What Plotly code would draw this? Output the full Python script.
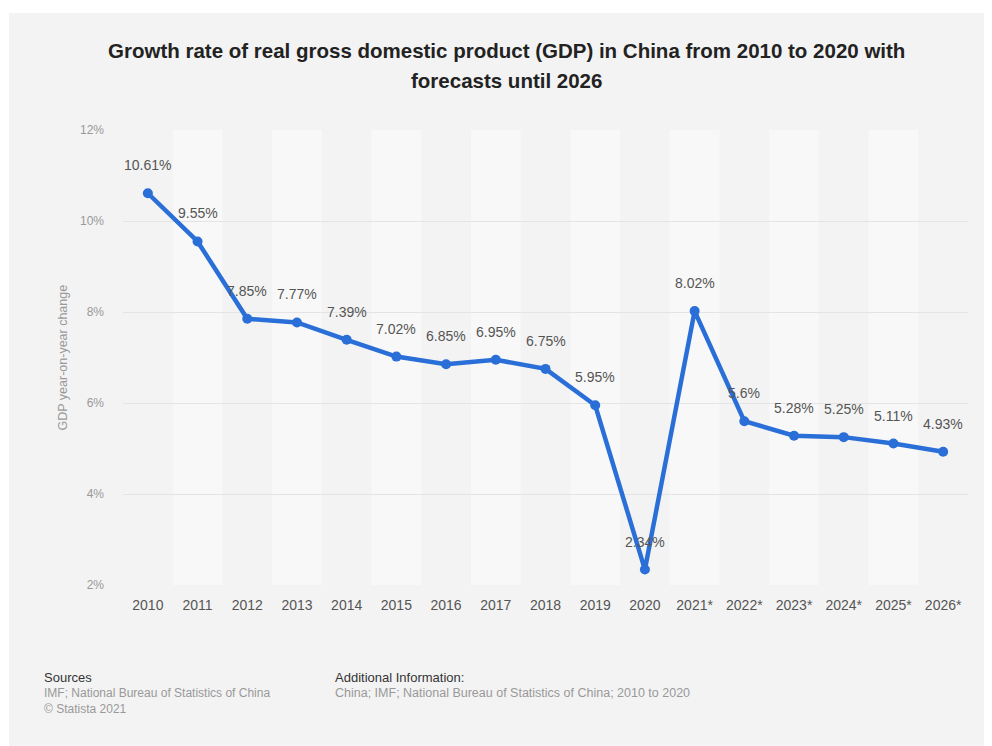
import plotly.graph_objects as go

years = ["2010", "2011", "2012", "2013", "2014", "2015", "2016", "2017", "2018",
         "2019", "2020", "2021*", "2022*", "2023*", "2024*", "2025*", "2026*"]
growth = [10.61, 9.55, 7.85, 7.77, 7.39, 7.02, 6.85, 6.95, 6.75,
          5.95, 2.34, 8.02, 5.6, 5.28, 5.25, 5.11, 4.93]
labels = ["10.61%", "9.55%", "7.85%", "7.77%", "7.39%", "7.02%", "6.85%", "6.95%", "6.75%",
          "5.95%", "2.34%", "8.02%", "5.6%", "5.28%", "5.25%", "5.11%", "4.93%"]
y_ticks = [2, 4, 6, 8, 10, 12]
y_ticktext = ["2%", "4%", "6%", "8%", "10%", "12%"]

FONT = "Liberation Sans, Arial, sans-serif"
BLUE = "#2a6fd8"
BG = "#f3f3f3"

W, H = 992, 746
ML, MR, MT, MB = 115, 32, 122, 169
PW, PH = W - ML - MR, H - MT - MB

fig = go.Figure()
fig.add_trace(go.Scatter(
    x=list(range(len(years))), y=growth, mode="lines+markers",
    line=dict(color=BLUE, width=4.5),
    marker=dict(color=BLUE, size=10),
    hoverinfo="y", showlegend=False,
))

# card background (white page border at top/left)
shapes = [dict(type="rect", xref="paper", yref="paper",
               x0=(1 - ML) / PW, x1=(W - ML) / PW,
               y0=(H - MB - H) / PH, y1=(H - MB - 5) / PH,
               fillcolor=BG, line=dict(width=0), layer="below")]
for i in range(len(years)):
    if i % 2 == 1:
        shapes.append(dict(type="rect", xref="x", yref="paper",
                           x0=i - 0.5, x1=i + 0.5, y0=0, y1=1,
                           fillcolor="#f8f8f8", line=dict(width=0), layer="below"))

annotations = []
for i, (v, t) in enumerate(zip(growth, labels)):
    annotations.append(dict(x=i, y=v, xref="x", yref="y", text=t, showarrow=False, yshift=28,
                            font=dict(family=FONT, size=14, color="#555555")))

annotations += [
    dict(text="<b>Growth rate of real gross domestic product (GDP) in China from 2010 to 2020 with</b>",
         xref="paper", yref="paper", x=0.5, y=1, xanchor="center", yanchor="middle",
         showarrow=False, font=dict(family=FONT, size=20.5, color="#222222"),
         yshift=80, xshift=-39),
    dict(text="<b>forecasts until 2026</b>",
         xref="paper", yref="paper", x=0.5, y=1, xanchor="center", yanchor="middle",
         showarrow=False, font=dict(family=FONT, size=20.5, color="#222222"),
         yshift=50, xshift=-39),
    dict(text="GDP year-on-year change", xref="paper", yref="paper", x=0, y=0.5,
         xanchor="center", yanchor="middle",
         xshift=-61, textangle=-90, showarrow=False,
         font=dict(family=FONT, size=12.5, color="#999999")),
    dict(text="Sources", xref="paper", yref="paper", x=0, y=0, xshift=-81, yshift=-92,
         xanchor="left", yanchor="middle", showarrow=False,
         font=dict(family=FONT, size=13, color="#333333")),
    dict(text="IMF; National Bureau of Statistics of China", xref="paper", yref="paper",
         x=0, y=0, xshift=-81, yshift=-108, xanchor="left", yanchor="middle", showarrow=False,
         font=dict(family=FONT, size=12, color="#999999")),
    dict(text="© Statista 2021", xref="paper", yref="paper",
         x=0, y=0, xshift=-81, yshift=-124, xanchor="left", yanchor="middle", showarrow=False,
         font=dict(family=FONT, size=12, color="#999999")),
    dict(text="Additional Information:", xref="paper", yref="paper", x=0, y=0, xshift=210, yshift=-92,
         xanchor="left", yanchor="middle", showarrow=False,
         font=dict(family=FONT, size=13, color="#333333")),
    dict(text="China; IMF; National Bureau of Statistics of China; 2010 to 2020", xref="paper", yref="paper",
         x=0, y=0, xshift=210, yshift=-108, xanchor="left", yanchor="middle", showarrow=False,
         font=dict(family=FONT, size=12.5, color="#999999")),
]

fig.update_layout(
    width=W, height=H,
    margin=dict(l=ML, r=MR, t=MT, b=MB),
    paper_bgcolor="white", plot_bgcolor="rgba(0,0,0,0)",
    font=dict(family=FONT),
    shapes=shapes, annotations=annotations,
    xaxis=dict(tickmode="array", tickvals=list(range(len(years))), ticktext=years,
               showgrid=False, zeroline=False, showline=False,
               tickfont=dict(family=FONT, size=14, color="#555555"), ticks="",
               ticklabelstandoff=10,
               range=[-0.5, len(years) - 0.5], fixedrange=True),
    yaxis=dict(range=[2, 12], tickvals=y_ticks, ticktext=y_ticktext,
               showgrid=True, gridcolor="#e4e4e4", gridwidth=1, zeroline=False,
               showline=False, ticks="", ticklabelstandoff=18,
               tickfont=dict(family=FONT, size=12, color="#999999"), fixedrange=True),
)

fig.write_html("out.html")
